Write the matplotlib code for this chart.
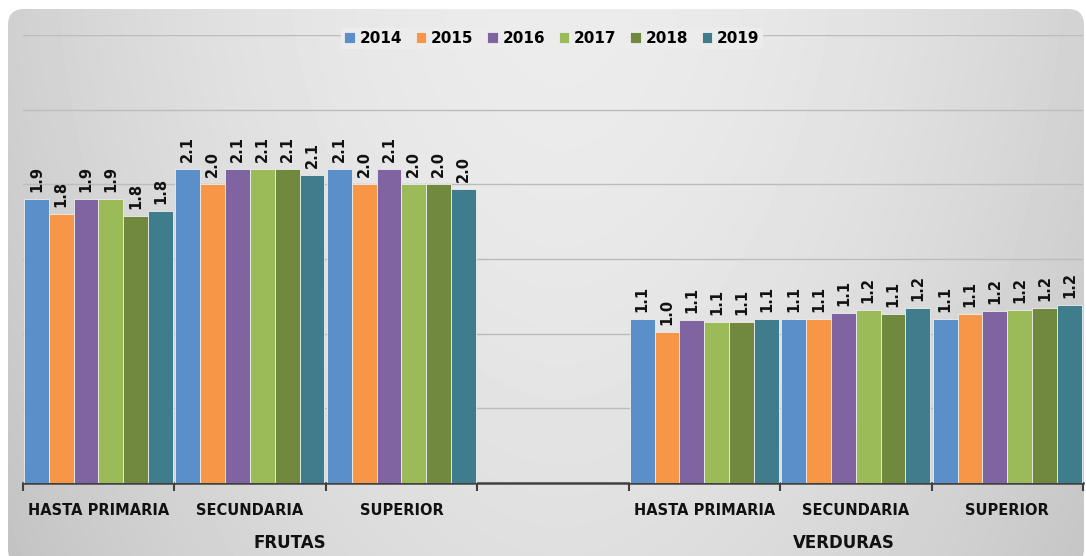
import numpy as np
import matplotlib.pyplot as plt
from matplotlib.patches import FancyBboxPatch
import matplotlib.transforms as mtransforms

plt.rcParams['font.family'] = ['DejaVu Sans']

years = ['2014', '2015', '2016', '2017', '2018', '2019']
categories = ['HASTA PRIMARIA', 'SECUNDARIA', 'SUPERIOR', '',
              'HASTA PRIMARIA', 'SECUNDARIA', 'SUPERIOR']
groups = ['FRUTAS', 'VERDURAS']
# category slots that hold bars (slot 3 is the empty spacer)
bar_slots = [0, 1, 2, 4, 5, 6]

# frutas (hasta primaria, secundaria, superior), verduras (same order)
v2014 = [1.90, 2.10, 2.10, 1.10, 1.10, 1.10]
v2015 = [1.80, 2.00, 2.00, 1.01, 1.10, 1.13]
v2016 = [1.90, 2.10, 2.10, 1.09, 1.14, 1.152]
v2017 = [1.90, 2.10, 2.00, 1.08, 1.16, 1.16]
v2018 = [1.79, 2.10, 2.00, 1.08, 1.13, 1.17]
v2019 = [1.82, 2.06, 1.97, 1.10, 1.17, 1.195]
series = [v2014, v2015, v2016, v2017, v2018, v2019]

colors = ['#5b8fc9', '#f79646', '#8064a2', '#9bbb59', '#71883f', '#3f7d8c']

W, H = 1086, 556
fig = plt.figure(figsize=(W / 100, H / 100), dpi=100)

# background: rounded panel, light in the middle, greyer toward the edges
bg = fig.add_axes([0, 0, 1, 1], zorder=-1)
bg.set_xlim(0, W)
bg.set_ylim(H, 0)
bg.axis('off')
yy, xx = np.mgrid[0:H, 0:W]
dx = np.abs(xx - 560) / 550.0
dy = yy / float(H)
shade = 0.925 - 0.11 * dx ** 1.8 - 0.05 * dy ** 1.5
panel = FancyBboxPatch((8, 9), W - 10, H, boxstyle='round,pad=0,rounding_size=16',
                       transform=bg.transData, facecolor='none', edgecolor='none')
bg.add_patch(panel)
img = bg.imshow(shade, cmap='gray', vmin=0, vmax=1, extent=(0, W, H, 0),
                aspect='auto', interpolation='bilinear')
img.set_clip_path(panel)

ax = fig.add_axes([22.7 / W, 1 - 483 / H, 1060.3 / W, 448 / H])
ax.patch.set_alpha(0)
ax.set_xlim(0, 7)
ax.set_ylim(0, 3)

width = 0.164
for i, (yr, vals) in enumerate(zip(years, series)):
    x = np.array(bar_slots) + 0.5 + (i - 2.5) * width
    ax.bar(x, vals, width=width, color=colors[i], edgecolor='#eeeeee',
           linewidth=0.6, label=yr, zorder=3)
    for xi, v in zip(x, vals):
        ax.annotate(f'{v:.1f}', (xi, v), xytext=(0, 5), textcoords='offset points',
                    rotation=90, ha='center', va='bottom', fontsize=10.5,
                    fontweight='bold', color='#111111')

ax.set_yticks(np.arange(0.5, 3.01, 0.5))
ax.yaxis.grid(True, color='#bcbcbc', linewidth=1)
ax.set_axisbelow(True)
ax.tick_params(axis='y', length=0, labelleft=False)

ax.set_xticks(np.arange(0, 8))
ax.tick_params(axis='x', length=6, width=1.5, color='#404040', labelbottom=False)
for s in ['left', 'right', 'top']:
    ax.spines[s].set_visible(False)
ax.spines['bottom'].set_color('#404040')
ax.spines['bottom'].set_linewidth(1.8)

trans = mtransforms.blended_transform_factory(ax.transData, ax.transAxes)
for k, cat in enumerate(categories):
    ax.text(k + 0.5, -0.062, cat, transform=trans, ha='center', va='center',
            fontsize=10.5, fontweight='bold', color='#111111')
for gx, g in zip([0.252, 0.774], groups):
    ax.text(gx, -0.133, g, transform=ax.transAxes, ha='center', va='center',
            fontsize=12, fontweight='bold', color='#111111')

leg = ax.legend(loc='center', bbox_to_anchor=(0.499, 0.993), ncol=6,
                frameon=True, facecolor='#ececec', edgecolor='none', framealpha=1,
                prop={'size': 11, 'weight': 'bold'}, handlelength=0.7,
                handleheight=0.7, handletextpad=0.3, columnspacing=0.9,
                borderpad=0.2)
leg.get_frame().set_boxstyle('square', pad=0)

fig.savefig('out.png', dpi=100)
